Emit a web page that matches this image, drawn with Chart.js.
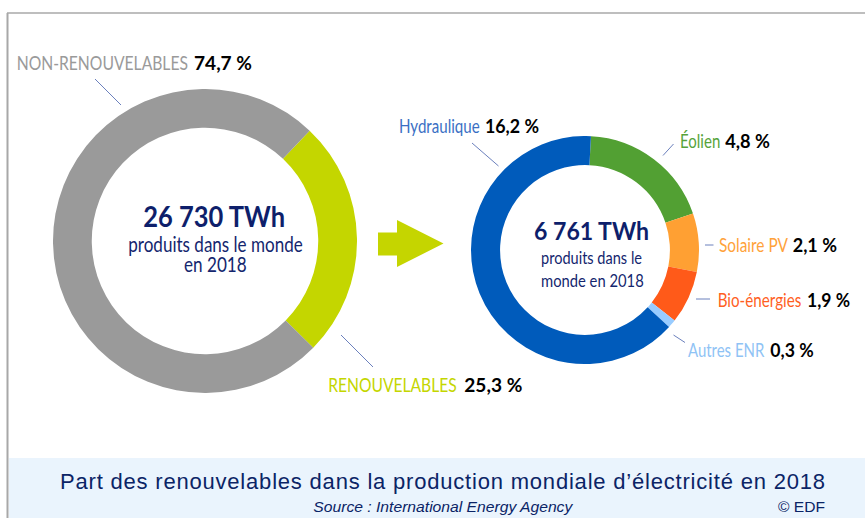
<!DOCTYPE html>
<html>
<head>
<meta charset="utf-8">
<script src="https://cdn.jsdelivr.net/npm/chart.js@4.4.1/dist/chart.umd.min.js"></script>
<style>
  html, body { margin:0; padding:0; background:#ffffff; }
  #page { position:relative; width:865px; height:518px; overflow:hidden; background:#fff; }
  canvas { position:absolute; }
  #overlay { position:absolute; left:0; top:0; width:865px; height:518px; pointer-events:none; }
  .lt { font-family:Lato,"Open Sans","DejaVu Sans Condensed",sans-serif; font-weight:400; }
  .bd { font-family:Lato,Roboto,"Liberation Sans",sans-serif; font-weight:700; }
</style>
</head>
<body>
<div id="page">
  <svg id="overlay" xmlns="http://www.w3.org/2000/svg" width="865" height="518">
    <rect x="9" y="458" width="856" height="60" fill="#eaf4fd"/>
    <line x1="7" y1="13" x2="865" y2="13" stroke="#a8a8a8" stroke-width="1.6"/>
    <line x1="7.5" y1="13" x2="7.5" y2="518" stroke="#a8a8a8" stroke-width="2"/>
    <polygon points="378,232.5 397,232.5 397,220 443.5,243.5 397,267 397,255.5 378,255.5" fill="#c5d500"/>
    <g stroke="#6b80bd" stroke-width="1">
      <line x1="95" y1="79" x2="121" y2="105"/>
      <line x1="341" y1="335" x2="373" y2="367"/>
      <line x1="472" y1="143" x2="498.5" y2="166"/>
      <line x1="673.5" y1="144" x2="663" y2="155.5"/>
      <line x1="705" y1="245" x2="713.5" y2="245"/>
      <line x1="696" y1="299" x2="710" y2="299"/>
      <line x1="673.5" y1="335" x2="685" y2="342.5"/>
    </g>
    <g id="texts"></g>
    <text x="60" y="489" textLength="765" lengthAdjust="spacing" font-family="'Liberation Sans',Arial,sans-serif" font-size="22" fill="#0b2466">Part des renouvelables dans la production mondiale d’électricité en 2018</text>
    <text x="313.3" y="511.5" textLength="259" lengthAdjust="spacingAndGlyphs" font-family="'Liberation Sans',Arial,sans-serif" font-style="italic" font-size="15.5" fill="#0b2466">Source : International Energy Agency</text>
    <text x="778" y="511.5" textLength="47" lengthAdjust="spacingAndGlyphs" font-family="'Liberation Sans',Arial,sans-serif" font-size="15.5" fill="#0b2466">© EDF</text>
  </svg>
  <canvas id="left" width="304" height="304" style="left:53px;top:88.5px;"></canvas>
  <canvas id="right" width="228" height="228" style="left:471px;top:136px;"></canvas>
</div>
<script>
// ---- Data ----
const totalCategories = ["RENOUVELABLES", "NON-RENOUVELABLES"];
const totalShares = [25.3, 74.7];
const totalColors = ["#c4d600", "#9a9a9a"];

const renewCategories = ["Éolien", "Solaire PV", "Bio-énergies", "Autres ENR", "Hydraulique"];
const renewShares = [4.8, 2.1, 1.9, 0.3, 16.2];
const renewColors = ["#52a033", "#ffa033", "#ff5a19", "#99ccff", "#005bbb"];

const totalLabel = ["26 730 TWh", "produits dans le monde", "en 2018"];
const renewLabel = ["6 761 TWh", "produits dans le", "monde en 2018"];

// label text colours
const totalLabelColors = ["#c4d600", "#9a9a9a"];
const renewLabelColors = ["#56a33a", "#ffa23a", "#ff5f1f", "#8fc3f5", "#3a6fc4"];

function fmt(v){ return v.toFixed(1).replace(".", ",") + " %"; }

function makeDoughnut(id, labels, data, colors, rotation){
  return new Chart(document.getElementById(id), {
    type: "doughnut",
    data: { labels: labels, datasets: [{ data: data, backgroundColor: colors, borderWidth: 0, hoverOffset: 0, offset: 0 }] },
    options: {
      responsive: false, maintainAspectRatio: false, animation: false,
      cutout: "74.5%", rotation: rotation,
      layout: { padding: 0 },
      plugins: { legend: { display: false }, tooltip: { enabled: false } },
      events: []
    }
  });
}
makeDoughnut("left", totalCategories, totalShares, totalColors, 43.5);
makeDoughnut("right", renewCategories, renewShares, renewColors, 3);

// ---- Text layout (name: [nameX0, nameX1, numX0, numX1, baseline]) ----
const labelBoxes = {
  "NON-RENOUVELABLES": [16.7, 188, 194, 252, 70],
  "RENOUVELABLES": [328.3, 456.7, 464.3, 522.3, 392],
  "Hydraulique": [399, 479.7, 485, 539, 133],
  "Éolien": [680, 720.3, 725.3, 770, 148],
  "Solaire PV": [719, 788, 792.7, 837, 252],
  "Bio-énergies": [717.7, 801.3, 807, 850, 307],
  "Autres ENR": [688, 764.3, 770.3, 813.7, 357]
};
const NS = "http://www.w3.org/2000/svg";
const tg = document.getElementById("texts");
function addText(str, x0, x1, y, cls, size, fill){
  const t = document.createElementNS(NS, "text");
  t.setAttribute("x", x0); t.setAttribute("y", y);
  t.setAttribute("textLength", (x1 - x0).toFixed(1));
  t.setAttribute("lengthAdjust", "spacingAndGlyphs");
  t.setAttribute("class", cls); t.setAttribute("font-size", size);
  t.setAttribute("fill", fill);
  t.textContent = str; tg.appendChild(t);
}
function addLabel(name, value, color){
  const b = labelBoxes[name];
  addText(name, b[0], b[1], b[4], "lt", 18.5, color);
  addText(fmt(value), b[2], b[3], b[4], "bd", 18.5, "#000");
}
totalCategories.forEach((c,i)=>addLabel(c, totalShares[i], totalLabelColors[i]));
renewCategories.forEach((c,i)=>addLabel(c, renewShares[i], renewLabelColors[i]));

// centre texts
const centerBoxes = [
  [[143.3, 285, 226.7, 28], [128.3, 302.7, 251.7, 21], [184, 246.7, 272, 21]],
  [[534, 649, 240, 24], [541, 642, 264, 18], [541, 643.7, 286.7, 18]]
];
[totalLabel, renewLabel].forEach((lines, k)=>{
  lines.forEach((s, i)=>{
    const b = centerBoxes[k][i];
    addText(s, b[0], b[1], b[2], i===0 ? "bd" : "lt", b[3], i===0 ? "#0e1f6b" : "#14266e");
  });
});
</script>
</body>
</html>
